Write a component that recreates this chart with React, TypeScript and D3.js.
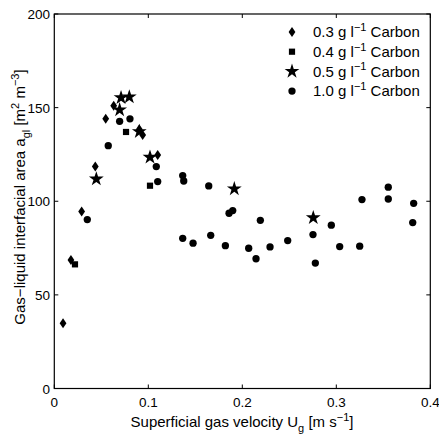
import React from "react";
import * as d3 from "d3";

const diamondX = [0.0093, 0.0177, 0.0291, 0.0436, 0.0547, 0.0632, 0.0904, 0.094, 0.110];
const diamondY = [34.8, 68.6, 94.5, 118.5, 144, 151, 138.4, 135.4, 124.7];
const squareX = [0.022, 0.0763, 0.1018];
const squareY = [66.3, 137, 108.3];
const starX = [0.0447, 0.0695, 0.071, 0.0798, 0.0904, 0.1018, 0.1915, 0.2755];
const starY = [111.9, 148.8, 155.3, 155.7, 137.2, 123.5, 106.6, 91.2];
const circleX = [0.0351, 0.0574, 0.0695, 0.0805, 0.1085, 0.110, 0.1366, 0.1377, 0.1643, 0.1366, 0.1476, 0.1664, 0.182, 0.1859, 0.1898, 0.2192, 0.2068, 0.2146, 0.2295, 0.2483, 0.2752, 0.2777, 0.2947, 0.3036, 0.3249, 0.3273, 0.3553, 0.3553, 0.3823, 0.3813];
const circleY = [90.2, 129.7, 142.7, 144, 118.5, 110.5, 113.7, 110.8, 108.2, 80.2, 77.6, 81.8, 76.3, 93.6, 95, 89.8, 74.9, 69.3, 75.6, 79, 82.2, 67, 87.2, 75.8, 76, 100.9, 107.5, 101.2, 98.9, 88.6];
const xTicks = [0, 0.1, 0.2, 0.3, 0.4];
const yTicks = [0, 50, 100, 150, 200];
const xTickLabels = ["0", "0.1", "0.2", "0.3", "0.4"];
const yTickLabels = ["0", "50", "100", "150", "200"];
const legendLabels = ["0.3", "0.4", "0.5", "1.0"];

const L = 54.3, R = 430.3, T = 14, B = 388.5;
const FONT = "Liberation Sans, Arial, Helvetica, sans-serif";

const x = d3.scaleLinear().domain([0, 0.4]).range([L, R]);
const y = d3.scaleLinear().domain([0, 200]).range([B, T]);

const diamondPath = "M0,-5L3.4,0L0,5L-3.4,0Z";
const squarePath = "M-3.1,-3.1H3.1V3.1H-3.1Z";
const starPath = d3.symbol(d3.symbolStar, 68)() as string;
const circlePath = d3.symbol(d3.symbolCircle, 42)() as string;

function Marks({ xs, ys, path }: { xs: number[]; ys: number[]; path: string }) {
  return (
    <g>
      {xs.map((v, i) => (
        <path key={i} d={path} transform={`translate(${x(v)},${y(ys[i])})`} fill="#000" />
      ))}
    </g>
  );
}

export default function App() {
  const legendPaths = [diamondPath, squarePath, starPath, circlePath];
  return (
    <svg width={439} height={438} style={{ position: "absolute", left: 0, top: 0, background: "#fff" }} fontFamily={FONT}>
      <rect x={0} y={0} width={439} height={438} fill="#fff" />
      <rect x={L} y={T} width={R - L} height={B - T} fill="none" stroke="#000" strokeWidth={1.2} />
      {xTicks.map((t, i) => (
        <g key={"x" + i}>
          <line x1={x(t)} x2={x(t)} y1={B} y2={B - 4} stroke="#000" />
          <line x1={x(t)} x2={x(t)} y1={T} y2={T + 4} stroke="#000" />
          <text x={x(t)} y={407} fontSize={13.5} textAnchor="middle">{xTickLabels[i]}</text>
        </g>
      ))}
      {yTicks.map((t, i) => (
        <g key={"y" + i}>
          <line x1={L} x2={L + 4} y1={y(t)} y2={y(t)} stroke="#000" />
          <line x1={R} x2={R - 4} y1={y(t)} y2={y(t)} stroke="#000" />
          <text x={50} y={y(t) + 5} fontSize={13.5} textAnchor="end">{yTickLabels[i]}</text>
        </g>
      ))}
      <text x={242} y={427} fontSize={15} textAnchor="middle">
        Superficial gas velocity U<tspan fontSize={11} dy={4.5}>g</tspan>
        <tspan dy={-4.5}> [m s</tspan>
        <tspan fontSize={11} dy={-6.5}>−1</tspan>
        <tspan dy={6.5}>]</tspan>
      </text>
      <text transform={`translate(25,197) rotate(-90)`} fontSize={15} textAnchor="middle">
        Gas−liquid interfacial area a<tspan fontSize={11} dy={4.5}>gl</tspan>
        <tspan dy={-4.5}> [m</tspan>
        <tspan fontSize={11} dy={-6.5}>2</tspan>
        <tspan dy={6.5}> m</tspan>
        <tspan fontSize={11} dy={-6.5}>−3</tspan>
        <tspan dy={6.5}>]</tspan>
      </text>
      <Marks xs={diamondX} ys={diamondY} path={diamondPath} />
      <Marks xs={squareX} ys={squareY} path={squarePath} />
      <Marks xs={starX} ys={starY} path={starPath} />
      <Marks xs={circleX} ys={circleY} path={circlePath} />
      {legendLabels.map((lab, i) => (
        <g key={"l" + i} transform={`translate(0,${32 + i * 19.7})`}>
          <path d={legendPaths[i]} transform="translate(292,0)" fill="#000" />
          <text x={313} y={5.3} fontSize={15}>
            {lab} g l<tspan fontSize={11} dy={-6.5}>−1</tspan>
            <tspan dy={6.5}> Carbon</tspan>
          </text>
        </g>
      ))}
    </svg>
  );
}
